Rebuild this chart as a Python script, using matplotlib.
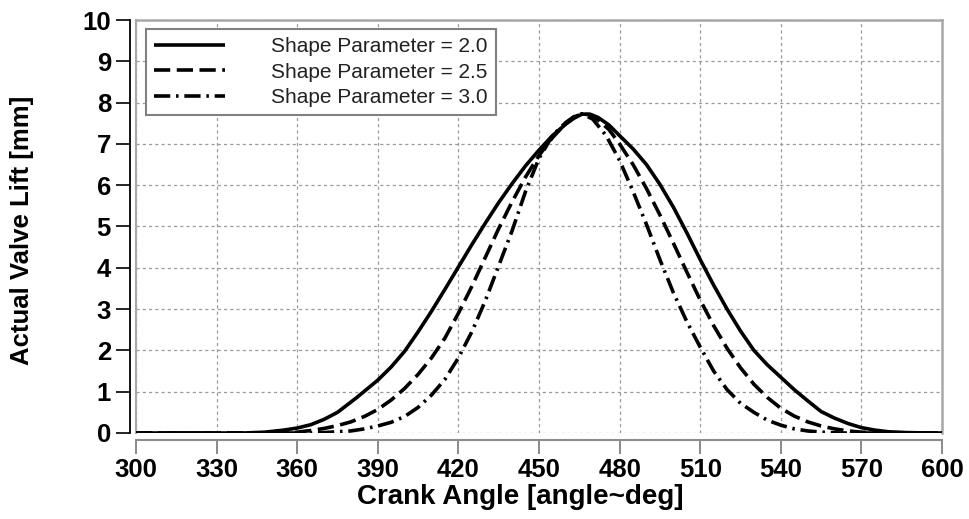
import numpy as np
import matplotlib
matplotlib.use("Agg")
from matplotlib import pyplot as plt
from matplotlib.lines import Line2D

# values
angle_20 = [300, 340, 348, 355, 360, 365, 370, 375, 382, 390, 395, 400, 405, 410, 415,
            420, 425, 430, 435, 440, 445, 450, 455, 460, 463, 466, 469, 472, 476, 480,
            485, 490, 495, 500, 505, 510, 515, 520, 525, 530, 535, 540, 545, 550, 555,
            560, 565, 570, 575, 580, 587, 595, 600]
lift_20 = [0, 0, 0.02, 0.07, 0.12, 0.2, 0.33, 0.5, 0.85, 1.28, 1.6, 1.98, 2.45, 2.95, 3.48,
           4.02, 4.56, 5.08, 5.58, 6.04, 6.47, 6.85, 7.2, 7.48, 7.62, 7.72, 7.72, 7.64, 7.46, 7.2,
           6.88, 6.5, 6.02, 5.47, 4.85, 4.2, 3.58, 3.0, 2.47, 2.0, 1.65, 1.35, 1.05, 0.78, 0.52,
           0.36, 0.23, 0.13, 0.07, 0.03, 0.01, 0, 0]

angle_25 = [300, 355, 360, 365, 370, 375, 380, 385, 390, 395, 400, 405, 410, 415, 420,
            425, 430, 435, 440, 445, 450, 455, 460, 463, 466, 469, 472, 476, 480, 485,
            490, 495, 500, 505, 510, 515, 520, 525, 530, 535, 540, 545, 550, 555, 560,
            565, 570, 578, 600]
lift_25 = [0, 0, 0.02, 0.06, 0.11, 0.18, 0.27, 0.4, 0.57, 0.8, 1.08, 1.42, 1.82, 2.3, 2.9,
           3.55, 4.25, 4.95, 5.6, 6.2, 6.72, 7.15, 7.5, 7.65, 7.73, 7.7, 7.58, 7.35, 7.0, 6.5,
           5.92, 5.28, 4.6, 3.9, 3.22, 2.6, 2.05, 1.58, 1.18, 0.86, 0.6, 0.41, 0.27, 0.17, 0.1,
           0.05, 0.02, 0, 0]

angle_30 = [300, 365, 370, 380, 385, 390, 395, 400, 405, 410, 415, 420, 425, 430, 435,
            440, 445, 450, 455, 460, 463, 466, 470, 475, 480, 485, 490, 495, 500, 505,
            510, 515, 520, 525, 530, 535, 540, 545, 550, 555, 562, 600]
lift_30 = [0, 0, 0.01, 0.05, 0.1, 0.17, 0.26, 0.4, 0.62, 0.92, 1.3, 1.82, 2.45, 3.2, 4.05,
           4.9, 5.85, 6.65, 7.2, 7.52, 7.66, 7.73, 7.6, 7.2, 6.6, 5.85, 5.05, 4.2, 3.4, 2.7,
           2.08, 1.5, 1.05, 0.72, 0.5, 0.31, 0.19, 0.1, 0.05, 0.02, 0, 0]

labels = ["Shape Parameter = 2.0", "Shape Parameter = 2.5", "Shape Parameter = 3.0"]
x_ticks = list(range(300, 601, 30))
y_ticks = list(range(0, 11))

plt.rcParams['font.family'] = ['Liberation Sans', 'DejaVu Sans']

fig = plt.figure(figsize=(9.69, 5.19), dpi=100)
ax = fig.add_axes([136/969, 1 - 433/519, (942-136)/969, (433-20)/519])

lw = 2.6
ax.plot(angle_20, lift_20, color="black", lw=lw, linestyle="-", label=labels[0],
        solid_capstyle="butt", zorder=3)
ax.plot(angle_25, lift_25, color="black", lw=lw, linestyle=(0, (4.5, 1.8)), label=labels[1],
        zorder=3)
ax.plot(angle_30, lift_30, color="black", lw=lw, linestyle=(0, (4.5, 1.6, 0.7, 1.6)),
        label=labels[2], zorder=3)

ax.set_xlim(300, 600)
ax.set_ylim(0, 10)
ax.set_xticks(x_ticks)
ax.set_yticks(y_ticks)

ax.grid(True, color="#9a9a9a", linestyle=(0, (2.5, 2.5)), lw=0.9)
ax.set_axisbelow(True)

# frame
for s in ["top", "right"]:
    ax.spines[s].set_color("#a8a8a8")
    ax.spines[s].set_linewidth(1.8)
ax.spines["left"].set_position(("outward", 4))
ax.spines["left"].set_color("black")
ax.spines["left"].set_linewidth(1.3)
ax.spines["bottom"].set_position(("outward", 5))
ax.spines["bottom"].set_color("#8c8c8c")
ax.spines["bottom"].set_linewidth(1.5)
ax.add_line(Line2D([0, 0], [0, 1], transform=ax.transAxes, color="#a8a8a8", lw=1.5,
                   clip_on=False, zorder=2))

ax.tick_params(axis="y", direction="out", length=10, width=1.2, pad=4)
ax.tick_params(axis="x", direction="out", length=10, width=1.2, pad=3, color="#777777")
for v, t in zip(y_ticks, ax.yaxis.get_major_ticks()):
    t.tick1line.set_color("black" if v <= 5 else "#9a9a9a")
for v, t in zip(x_ticks, ax.xaxis.get_major_ticks()):
    if v in (420, 510):
        t.tick1line.set_color("black")

for lab in ax.get_yticklabels():
    lab.set_fontsize(18.5)
    lab.set_fontweight("bold")
for lab in ax.get_xticklabels():
    lab.set_fontsize(18.5)
    lab.set_fontweight("bold")

ax.set_xlabel("Crank Angle [angle~deg]", fontsize=20, fontweight="bold", va="center")
ax.xaxis.set_label_coords(0.477, -0.155)
ax.set_ylabel("Actual Valve Lift [mm]", fontsize=18.5, fontweight="bold", va="center")
ax.yaxis.set_label_coords(-0.142, 0.49)

leg = ax.legend(loc="upper left", bbox_to_anchor=(10/806, 1 - 9/413), fontsize=15,
                handlelength=3.4, handletextpad=2.2, labelspacing=0.3,
                borderpad=0.4, borderaxespad=0, fancybox=False, framealpha=1)
leg.get_frame().set_edgecolor("#808080")
leg.get_frame().set_linewidth(1.5)
for t in leg.get_texts():
    t.set_color("#222222")

fig.savefig("out.png", dpi=100)
